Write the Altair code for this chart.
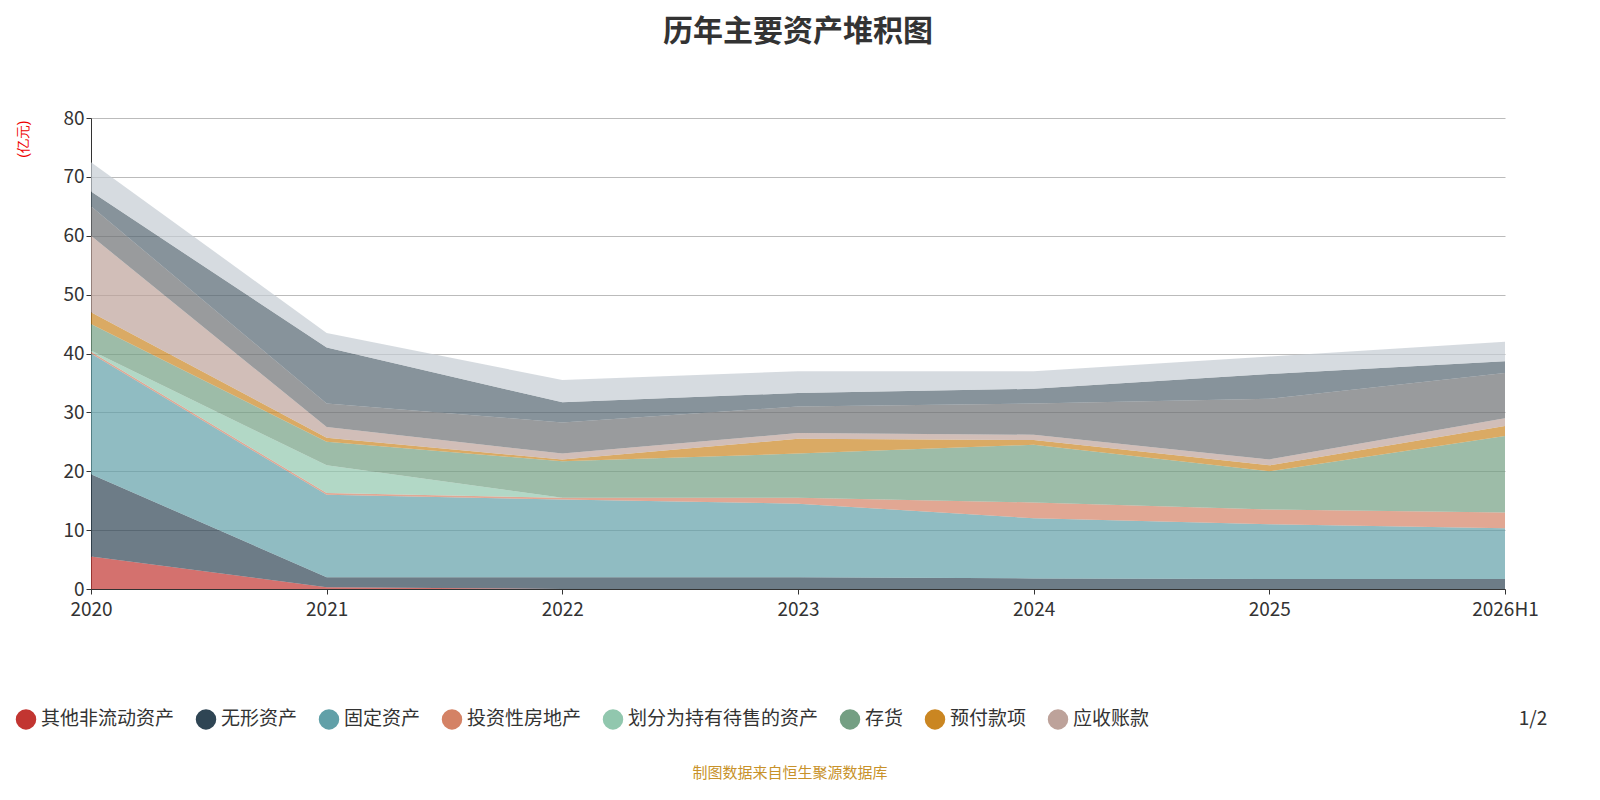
import altair as alt
import pandas as pd

years = ["2020", "2021", "2022", "2023", "2024", "2025", "2026H1"]
series = ["其他非流动资产", "无形资产", "固定资产", "投资性房地产", "划分为持有待售的资产",
          "存货", "预付款项", "应收账款", "其他应收款", "货币资金", "其他资产"]
colors = ["#c23531", "#2f4554", "#61a0a8", "#d48265", "#91c7ae",
          "#749f83", "#ca8622", "#bda29a", "#6e7074", "#546570", "#c4ccd3"]

# cumulative tops, one list per year (亿元)
tops = {
    "2020":   [5.5, 19.5, 40.0, 40.3, 40.5, 45.0, 47.0, 60.0, 65.0, 67.5, 72.5],
    "2021":   [0.3, 2.0, 16.0, 16.3, 21.0, 25.0, 25.7, 27.5, 31.5, 41.0, 43.5],
    "2022":   [0.0, 2.0, 15.2, 15.5, 15.5, 21.7, 22.0, 23.0, 28.3, 31.7, 35.5],
    "2023":   [0.0, 2.0, 14.5, 15.5, 15.5, 23.0, 25.5, 26.5, 31.0, 33.3, 37.0],
    "2024":   [0.0, 1.8, 12.0, 14.7, 14.7, 24.5, 25.3, 26.2, 31.5, 34.0, 37.0],
    "2025":   [0.0, 1.7, 11.0, 13.5, 13.5, 20.0, 21.0, 22.0, 32.3, 36.5, 39.5],
    "2026H1": [0.0, 1.7, 10.3, 13.0, 13.0, 26.0, 27.7, 29.0, 36.7, 38.7, 42.0],
}

rows = []
for y in years:
    prev = 0.0
    for i, s in enumerate(series):
        rows.append({"year": y, "series": s, "order": i, "value": round(tops[y][i] - prev, 2)})
        prev = tops[y][i]
df = pd.DataFrame(rows)

W, H = 1414, 471
font = "Noto Sans CJK SC"

area = alt.Chart(df).mark_area(opacity=0.7, line=False).encode(
    x=alt.X("year:O", sort=years, title=None,
            scale=alt.Scale(type="point", padding=0),
            axis=alt.Axis(labelAngle=0, labelFontSize=19, labelColor="#333", domainColor="#333",
                          tickColor="#333", labelPadding=6, tickSize=5, labelFont=font,
                          labelOverlap=False)),
    y=alt.Y("value:Q", stack="zero", scale=alt.Scale(domain=[0, 80]),
            axis=alt.Axis(values=list(range(0, 81, 10)), labelFontSize=19, labelColor="#333",
                          domainColor="#333", tickColor="#333", gridColor="#bbb",
                          title="(亿元)", titleColor="#e00", titleFontSize=14, titleFontWeight="normal",
                          titleAngle=270, titleX=-61, titleY=2, titleAlign="right", labelFont=font)),
    color=alt.Color("series:N", sort=series, scale=alt.Scale(domain=series, range=colors),
                    legend=alt.Legend(orient="none", legendX=-76, legendY=590, direction="horizontal",
                                      values=series[:8], title=None, symbolType="circle",
                                      symbolSize=420, symbolOpacity=1, labelFontSize=19,
                                      labelColor="#333", labelFont=font, columnPadding=20,
                                      columns=8, labelLimit=300)),
    order=alt.Order("order:Q"),
)

footer = alt.Chart(pd.DataFrame({"t": ["制图数据来自恒生聚源数据库"]})).mark_text(
    fontSize=15, color="#c8922a", font=font, align="center"
).encode(text="t:N", x=alt.value(W / 2 - 8), y=alt.value(H + 184))

pager = alt.Chart(pd.DataFrame({"t": ["1/2"]})).mark_text(
    fontSize=19, color="#333", font=font, align="center"
).encode(text="t:N", x=alt.value(W + 28), y=alt.value(H + 130))

chart = alt.layer(area, footer, pager).properties(
    width=W, height=H,
    autosize=alt.AutoSizeParams(type="none"),
    padding={"left": 83, "top": 110, "right": 60, "bottom": 200},
    title=alt.Title("历年主要资产堆积图", fontSize=30, font=font, color="#333",
                    anchor="middle", offset=62),
).configure_view(stroke=None)

chart.save("out.html", embed_options={"renderer": "svg", "actions": False})
